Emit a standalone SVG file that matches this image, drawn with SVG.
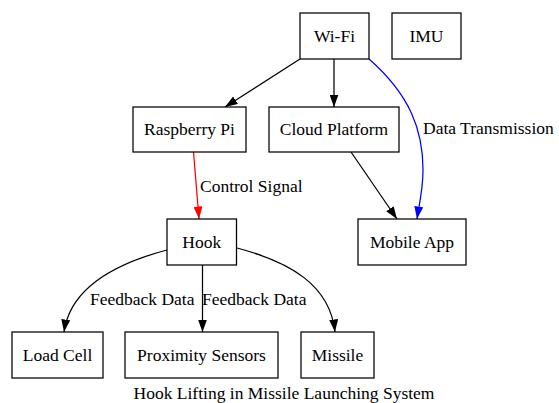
<svg xmlns="http://www.w3.org/2000/svg" width="559" height="403" viewBox="0 0 559 403">
<defs>
<style>
.n rect{fill:#fff;stroke:#000;stroke-width:1.25}
text{font-family:"Liberation Serif","Times New Roman",serif;font-size:17.5px;fill:#000}
.n text{text-anchor:middle}
.e{fill:none;stroke:#000;stroke-width:1.25}
</style>
<marker id="ak" markerWidth="12.5" markerHeight="9" refX="12.5" refY="4.5" orient="auto" markerUnits="userSpaceOnUse"><path d="M0,0 L12.5,4.5 L0,9 z" fill="#000"/></marker>
<marker id="ar" markerWidth="12.5" markerHeight="9" refX="12.5" refY="4.5" orient="auto" markerUnits="userSpaceOnUse"><path d="M0,0 L12.5,4.5 L0,9 z" fill="#f00"/></marker>
<marker id="ab" markerWidth="12.5" markerHeight="9" refX="12.5" refY="4.5" orient="auto" markerUnits="userSpaceOnUse"><path d="M0,0 L12.5,4.5 L0,9 z" fill="#00f"/></marker>
</defs>
<rect width="559" height="403" fill="#fff"/>
<g id="edges">
<path class="e" d="M300,59 L225,107" marker-end="url(#ak)"/>
<path class="e" d="M334,59 L334,107" marker-end="url(#ak)"/>
<path class="e" d="M369,59 C410,95 423,130 423,170 C423,190 419,205 417,219" style="stroke:#00f" marker-end="url(#ab)"/>
<text x="423" y="134">Data Transmission</text>
<path class="e" d="M193.5,152 L199,219" style="stroke:#f00" marker-end="url(#ar)"/>
<text x="200" y="192">Control Signal</text>
<path class="e" d="M351,152 L397,219" marker-end="url(#ak)"/>
<path class="e" d="M167,250 C110,265 70,290 64,332" marker-end="url(#ak)"/>
<text x="90" y="305">Feedback Data</text>
<path class="e" d="M202.5,265 L202.5,332" marker-end="url(#ak)"/>
<text x="202" y="305">Feedback Data</text>
<path class="e" d="M237,248 C290,262 330,285 335,332" marker-end="url(#ak)"/>
</g>
<g id="wifi" class="n"><rect x="300" y="13" width="69" height="46"/><text x="334.5" y="42">Wi-Fi</text></g>
<g id="imu" class="n"><rect x="392" y="13" width="69" height="46"/><text x="426.5" y="42">IMU</text></g>
<g id="raspberry" class="n"><rect x="133" y="107" width="113" height="45"/><text x="189.5" y="135">Raspberry Pi</text></g>
<g id="cloud" class="n"><rect x="269" y="107" width="130" height="45"/><text x="334" y="135">Cloud Platform</text></g>
<g id="hook" class="n"><rect x="167" y="219" width="69.5" height="46"/><text x="201.7" y="248">Hook</text></g>
<g id="mobile" class="n"><rect x="358" y="219" width="108" height="46"/><text x="412" y="248">Mobile App</text></g>
<g id="loadcell" class="n"><rect x="12" y="332" width="91" height="46"/><text x="57.5" y="361">Load Cell</text></g>
<g id="proximity" class="n"><rect x="125" y="332" width="153" height="46"/><text x="201.5" y="361">Proximity Sensors</text></g>
<g id="missile" class="n"><rect x="301" y="332" width="73" height="46"/><text x="337.5" y="361">Missile</text></g>
<text x="284" y="399" text-anchor="middle">Hook Lifting in Missile Launching System</text>
</svg>
